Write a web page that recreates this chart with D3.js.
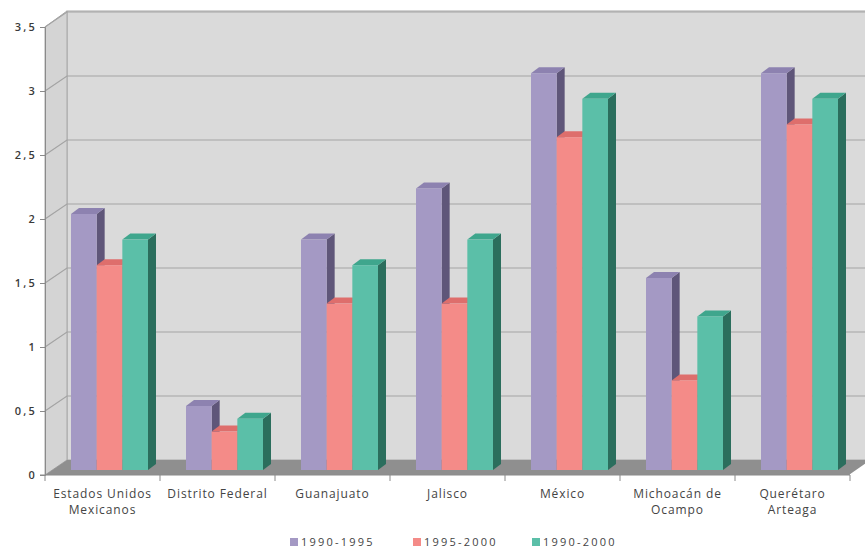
<!DOCTYPE html>
<html><head><meta charset="utf-8">
<script src="https://cdn.jsdelivr.net/npm/d3@7"></script>
<style>body{margin:0;background:#fff}svg{display:block}</style>
</head><body>
<svg id="c" width="865" height="549"></svg>
<script>
const categories = ["Estados Unidos\nMexicanos","Distrito Federal","Guanajuato","Jalisco","México","Michoacán de\nOcampo","Querétaro\nArteaga"];
const seriesNames = ["1990-1995","1995-2000","1990-2000"];
const s1990_1995 = [2.0,0.5,1.8,2.2,3.1,1.5,3.1];
const s1995_2000 = [1.6,0.3,1.3,1.3,2.6,0.7,2.7];
const s1990_2000 = [1.8,0.4,1.6,1.8,2.9,1.2,2.9];
const yTicks = [0,0.5,1,1.5,2,2.5,3,3.5];
const seriesValues = [s1990_1995, s1995_2000, s1990_2000];
const colors = [
  {front:"#a499c4", top:"#8d82b0", side:"#5f5679"},
  {front:"#f48b88", top:"#de6e6c", side:"#b35856"},
  {front:"#5bbfa8", top:"#3fa68d", side:"#2b6e5d"}
];

const svg = d3.select("#c");
const font = "'Open Sans', 'DejaVu Sans', sans-serif";
const x = d3.scaleBand().domain(categories).range([45,850]);
const y = d3.scaleLinear().domain([0,3.5]).range([475,27]);
const W = {dx:22, dy:-15};     // wall depth
const BF = {dx:7, dy:-5};      // bar front offset
const BD = {dx:8, dy:-6};      // bar depth
const groupW = 77;
const xs = d3.scaleBand().domain(seriesNames).range([0,groupW]);

const x0 = x.range()[0], x1 = x.range()[1];
const yTop = y(3.5), yBot = y(0);

// back wall
svg.append("rect").attr("x",x0+W.dx).attr("y",yTop+W.dy-1).attr("width",865-(x0+W.dx)+5).attr("height",yBot-yTop+1)
  .attr("fill","#dadada").attr("stroke","#a8a8a8").attr("stroke-width",1);
// left wall
svg.append("path").attr("d",`M${x0},${yBot}L${x0},${yTop}L${x0+W.dx},${yTop+W.dy-1}L${x0+W.dx},${yBot+W.dy}Z`)
  .attr("fill","#d4d4d4").attr("stroke","#a8a8a8");
// gridlines
yTicks.forEach(t=>{
  if(t===0) return;
  svg.append("path").attr("d",`M${x0},${y(t)}L${x0+W.dx},${y(t)+W.dy}L870,${y(t)+W.dy}`)
    .attr("fill","none").attr("stroke","#a3a3a3").attr("stroke-width",1.2);
});
// floor
svg.append("path").attr("d",`M${x0},${yBot}L${x1},${yBot}L${x1+W.dx},${yBot+W.dy}L${x0+W.dx},${yBot+W.dy}Z`)
  .attr("fill","#8f8f8f");
svg.append("path").attr("d",`M${x1},${yBot}L${x1+W.dx},${yBot+W.dy}`).attr("stroke","#fff").attr("stroke-width",1.5);

// bars
const yb = v => y(v)+BF.dy;
categories.forEach((c,ci)=>{
  const gx = x(c) + (x.bandwidth()-groupW)/2 + BF.dx;
  seriesNames.forEach((s,si)=>{
    const v = seriesValues[si][ci];
    const bx = gx + xs(s), bw = xs.bandwidth();
    const top = yb(v), bot = yb(0);
    const col = colors[si];
    const g = svg.append("g");
    g.append("path").attr("d",`M${bx+bw},${bot}L${bx+bw},${top}L${bx+bw+BD.dx},${top+BD.dy}L${bx+bw+BD.dx},${bot+BD.dy}Z`).attr("fill",col.side);
    g.append("path").attr("d",`M${bx},${top}L${bx+BD.dx},${top+BD.dy}L${bx+bw+BD.dx},${top+BD.dy}L${bx+bw},${top}Z`).attr("fill",col.top);
    g.append("rect").attr("x",bx).attr("y",top).attr("width",bw).attr("height",bot-top).attr("fill",col.front);
  });
});

// y axis
const ya = svg.append("g").attr("transform",`translate(${x0},0)`)
  .call(d3.axisLeft(y).tickValues(yTicks).tickSize(5).tickPadding(3).tickFormat(d=>String(d).replace(".",",")));
ya.select(".domain").attr("stroke","#8a8a8a");
ya.selectAll(".tick line").attr("stroke","#8a8a8a");
ya.selectAll("text").attr("font-family",font).attr("font-size",11).attr("letter-spacing","2.2px")
  .attr("font-weight",600).attr("fill","#3a3a3a");

// x axis
const xa = svg.append("g").attr("transform",`translate(0,${yBot})`)
  .call(d3.axisBottom(x).tickSize(0).tickPadding(0).tickFormat(""));
xa.select(".domain").attr("stroke","#8a8a8a").attr("d",`M${x0-5},0H${x1}`);
const bounds = categories.map(c=>x(c)).concat([x1]);
bounds.forEach(b=>{
  xa.append("line").attr("x1",b).attr("x2",b).attr("y1",0).attr("y2",6).attr("stroke","#8a8a8a");
});
xa.selectAll(".tick").each(function(d){
  const t = d3.select(this).select("text").text(null).attr("y",23).attr("dy",0)
    .attr("font-family",font).attr("font-size",12).attr("letter-spacing","0.9px").attr("fill","#444");
  d.split("\n").forEach((ln,i)=>{
    t.append("tspan").attr("x",0).attr("y",23+i*16).text(ln);
  });
});

// legend
const legX = [290,413,532];
seriesNames.forEach((s,i)=>{
  svg.append("rect").attr("x",legX[i]).attr("y",538).attr("width",8).attr("height",8).attr("fill",colors[i].front);
  svg.append("text").attr("x",legX[i]+11).attr("y",546).text(s)
    .attr("font-family",font).attr("font-size",11).attr("letter-spacing","2.2px").attr("fill","#444");
});
</script>
</body></html>
